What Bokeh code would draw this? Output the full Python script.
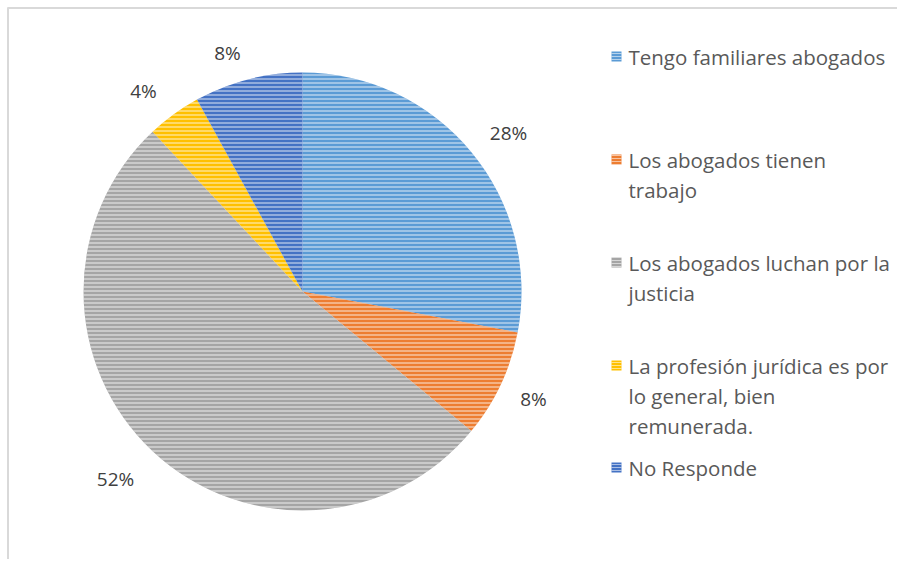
import math
from bokeh.plotting import figure
from bokeh.models import Range1d, ColumnDataSource
from bokeh.core.properties import value
from bokeh.embed import file_html
from bokeh.resources import INLINE

categories = ["Tengo familiares abogados", "Los abogados tienen trabajo",
              "Los abogados luchan por la justicia",
              "La profesión jurídica es por lo general, bien remunerada.",
              "No Responde"]
legend_lines = [["Tengo familiares abogados"],
                ["Los abogados tienen", "trabajo"],
                ["Los abogados luchan por la", "justicia"],
                ["La profesión jurídica es por", "lo general, bien", "remunerada."],
                ["No Responde"]]
values = [28, 8, 52, 4, 8]
pct_labels = ["28%", "8%", "52%", "4%", "8%"]
colors = ["#5B9BD5", "#ED7D31", "#A5A5A5", "#FFC000", "#4472C4"]

W, H = 897, 559
p = figure(width=W, height=H, output_backend="svg", toolbar_location=None,
           x_range=Range1d(0, W), y_range=Range1d(0, H), min_border=0)
p.axis.visible = False
p.grid.visible = False
p.outline_line_color = None
p.background_fill_color = "white"

def px(x):
    return x
def py(y):
    return H - y

# frame (left and top lines)
p.line([px(7.5), px(7.5)], [py(7), 0], line_color="#D9D9D9", line_width=2)
p.line([px(7), W], [py(7.5), py(7.5)], line_color="#D9D9D9", line_width=2)

cx, cy, r = px(302), py(291), 219
total = sum(values)
starts, ends = [], []
cum = 0
for v in values:
    starts.append(math.pi / 2 - 2 * math.pi * cum / total)
    cum += v
    ends.append(math.pi / 2 - 2 * math.pi * cum / total)

src = ColumnDataSource(dict(start=starts, end=ends, color=colors))
p.wedge(x=cx, y=cy, radius=r, start_angle="start", end_angle="end",
        direction="clock", fill_color="color", line_color=None, source=src,
        hatch_pattern="horizontal_line", hatch_color="white", hatch_alpha=0.55,
        hatch_scale=4, hatch_weight=1.5)

# percentage labels
label_pos = [(508, 132), (533, 398), (115, 478), (143, 90), (227, 52)]
p.text(x=[px(a) for a, b in label_pos], y=[py(b) for a, b in label_pos],
       text=pct_labels, text_font=value("Open Sans"), text_font_size="19px",
       text_color="#404040", text_align="center", text_baseline="middle")

# legend
first_y = [56, 159, 262, 365, 467]
lx, ly, lt = [], [], []
for lines, y0 in zip(legend_lines, first_y):
    for i, t in enumerate(lines):
        lx.append(px(628))
        ly.append(py(y0 + 30 * i))
        lt.append(t)
p.rect(x=[px(616)] * 5, y=[py(y) for y in first_y], width=10, height=10,
       fill_color=colors, line_color=None,
       hatch_pattern="horizontal_line", hatch_color="white", hatch_alpha=0.55,
       hatch_scale=3, hatch_weight=1)
p.text(x=lx, y=ly, text=lt, text_font=value("Open Sans"), text_font_size="20.5px",
       text_color="#595959", text_align="left", text_baseline="middle")

open("out.html", "w").write(file_html(p, INLINE))
